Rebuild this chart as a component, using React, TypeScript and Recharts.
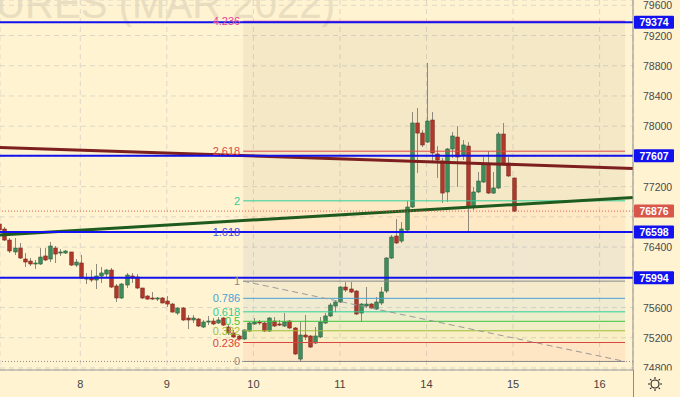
import {
    Bar,
    CartesianGrid,
    ComposedChart,
    ReferenceArea,
    ReferenceDot,
    ReferenceLine,
    XAxis,
    YAxis,
} from 'recharts';

// hourly candles, index = bar number
const opens = [
    76705, 76639, 76493, 76335, 76387, 76242, 76215, 76176, 76176, 76282, 76242, 76387, 76321, 76321, 76335, 76162,
    76189, 75977, 75990, 75964, 76017, 76043, 76096, 75885, 75726, 75898, 76017, 76004, 75858, 75752, 75726, 75712,
    75726, 75686, 75646, 75527, 75593, 75461, 75435, 75448, 75342, 75408, 75421, 75395, 75461, 75342, 75263, 75223,
    75183, 75289, 75382, 75408, 75395, 75289, 75421, 75382, 75355, 75421, 75329, 74918, 75236, 75223, 75130, 75210,
    75395, 75488, 75620, 75673, 75871, 75845, 75818, 75527, 75620, 75646, 75580, 75660, 75818, 76255, 76546, 76480,
    76626, 76930, 78042, 77909, 77790, 78081, 77632, 77539, 77129, 77698, 77856, 77618, 77737, 76930, 77129, 77261,
    77499, 77115, 77182, 77896, 77512, 77314,
];
const highs = [
    76732, 76665, 76520, 76520, 76454, 76321, 76255, 76229, 76387, 76387, 76467, 76414, 76374, 76361, 76335, 76242,
    76295, 76057, 76096, 76176, 76136, 76110, 76123, 75911, 75924, 76057, 76057, 76043, 75860, 75765, 75805, 75739,
    75739, 75752, 75660, 75607, 75607, 75501, 75501, 75461, 75435, 75488, 75461, 75474, 75474, 75368, 75302, 75236,
    75315, 75408, 75461, 75435, 75421, 75474, 75474, 75435, 75527, 75435, 75342, 75408, 75501, 75236, 75342, 75474,
    75527, 75660, 75686, 75885, 75937, 75937, 75832, 75660, 75871, 75660, 75739, 75871, 76268, 76560, 76771, 76732,
    77010, 78187, 78240, 77949, 78836, 78187, 77737, 77579, 77711, 77923, 78002, 77817, 77790, 77195, 77393, 77592,
    77671, 77393, 77923, 78042, 77592, 77320,
];
const lows = [
    76612, 76480, 76321, 76295, 76242, 76136, 76149, 76110, 76162, 76215, 76202, 76189, 76282, 76308, 76149, 76136,
    75977, 75911, 75937, 75845, 75924, 75990, 75858, 75673, 75712, 75858, 75924, 75845, 75712, 75699, 75699, 75686,
    75655, 75607, 75535, 75501, 75421, 75315, 75395, 75342, 75329, 75368, 75368, 75382, 75355, 75236, 75196, 75170,
    75170, 75276, 75368, 75368, 75276, 75276, 75342, 75355, 75342, 75315, 74971, 74879, 75170, 75064, 75117, 75196,
    75382, 75474, 75540, 75660, 75805, 75792, 75501, 75408, 75593, 75580, 75567, 75633, 75792, 76242, 76440, 76454,
    76599, 76917, 77380, 77724, 77777, 77512, 77314, 76983, 76996, 77579, 77195, 77552, 76586, 76890, 77115, 77248,
    77102, 77102, 77168, 77486, 77327, 76864,
];
const closes = [
    76626, 76493, 76348, 76387, 76255, 76202, 76176, 76189, 76268, 76229, 76414, 76308, 76335, 76348, 76162, 76202,
    75990, 75990, 75964, 76017, 76057, 76096, 75871, 75726, 75911, 76030, 75990, 75858, 75726, 75712, 75712, 75726,
    75660, 75646, 75540, 75593, 75435, 75435, 75461, 75355, 75408, 75421, 75382, 75435, 75368, 75263, 75210, 75183,
    75302, 75395, 75408, 75395, 75289, 75461, 75355, 75368, 75408, 75329, 74985, 75236, 75210, 75077, 75223, 75408,
    75488, 75633, 75673, 75871, 75832, 75805, 75514, 75646, 75646, 75593, 75673, 75805, 76255, 76533, 76454, 76639,
    76930, 78042, 77909, 77751, 78068, 77645, 77552, 77115, 77698, 77870, 77592, 77751, 76930, 77129, 77274, 77499,
    77115, 77182, 77896, 77512, 77341, 76876,
];

const dayTicks = [16, 33, 50, 67, 84, 101, 118];
const dayLabels = ['8', '9', '10', '11', '14', '15', '16'];
const priceTicks = [74800, 75200, 75600, 76000, 76400, 76800, 77200, 77600, 78000, 78400, 78800, 79200, 79600];

const levelPrices = [79374, 77607, 76598, 75994];
const lastPrice = 76876;

// fib retracement: anchors and ratios
const fibStart = 48;
const fibEnd = 123;
const fibLow = 74886;
const fibHigh = 75949;
const fibRatios = [0, 0.236, 0.382, 0.5, 0.618, 0.786, 1, 1.618, 2, 2.618, 4.236];
const fibColors = ['#8a8a8a', '#d9453f', '#9fbf3a', '#3fc43f', '#2fcf9a', '#4aa2d6', '#8a8a8a', '#4b4bd6', '#2fcf9a', '#dd4848', '#e6409e'];
const fibFills = ['#f05a3c', '#c8c040', '#60c060', '#30c090', '#50a0d0', '#909090', '#6070c0', '#f08040', '#807a68', '#8a7a60'];

// trend lines (price at left and right edge of the pane)
const X_MIN = 0.23;
const X_MAX = 124.56;
const resistanceLine = [77717, 77440];
const supportLine = [76560, 77056];

const Y_MIN = 74773;
const Y_MAX = 79670;

const BG = '#fff3d1';
const BLUE = '#1212ee';
const UP = '#3f8d5c';
const UP_EDGE = '#285c3b';
const DOWN = '#b03a2a';
const DOWN_EDGE = '#7a2418';
const WICK = '#8d897c';

const candles = opens.map((open, i) => ({
    i,
    open,
    high: highs[i],
    low: lows[i],
    close: closes[i],
}));

const fibPrice = (r: number) => fibLow + r * (fibHigh - fibLow);
const tagPrices = [...levelPrices, lastPrice];

function Candle(props: any) {
    const { x, y, width, height } = props;
    const d = props.payload ?? props;
    if (x == null || y == null) return null;
    const cx = Math.round(x + width / 2) + 0.5;
    const top = Math.min(y, y + height);
    const h = Math.abs(height);
    const k = d.high > d.low ? h / (d.high - d.low) : 0;
    const py = (p: number) => top + (d.high - p) * k;
    const up = d.close >= d.open;
    const bTop = py(Math.max(d.open, d.close));
    const bBot = py(Math.min(d.open, d.close));
    return (
        <g>
            <line x1={cx} x2={cx} y1={top} y2={top + h} stroke={WICK} strokeWidth={1} />
            <rect
                x={cx - 1.75}
                y={bTop}
                width={3.5}
                height={Math.max(1, bBot - bTop)}
                fill={up ? UP : DOWN}
                stroke={up ? UP_EDGE : DOWN_EDGE}
                strokeWidth={0.6}
            />
        </g>
    );
}

// price scale labels that sit under a price tag are hidden, as in the terminal
function PriceTick(props: any) {
    const { x, y, payload } = props;
    const v = payload.value;
    if (tagPrices.some((p) => Math.abs(p - v) < 110)) return null;
    return (
        <text x={x} y={y + 4} fill="#4a4a4a" fontSize={10.5} textAnchor="start">
            {v}
        </text>
    );
}

function PriceTag({ viewBox, text, color }: any) {
    if (!viewBox) return null;
    const x = viewBox.x + viewBox.width + 1;
    const y = viewBox.y;
    return (
        <g>
            <rect x={x} y={y - 6.5} width={40} height={13} rx={1} fill={color} />
            <text x={x + 20} y={y + 4} textAnchor="middle" fill="#fff" fontSize={10.5} fontWeight="bold">
                {text}
            </text>
        </g>
    );
}

export default function App() {
    return (
        <div
            style={{
                position: 'absolute',
                left: 0,
                top: 0,
                width: 680,
                height: 397,
                background: BG,
                overflow: 'hidden',
                fontFamily: '"Liberation Sans", Arial, sans-serif',
            }}
        >
            <svg width={680} height={397} style={{ position: 'absolute', left: 0, top: 0 }}>
                <text x={-4} y={18} fontSize={42} fill="#e9dec0" textLength={339} lengthAdjust="spacingAndGlyphs">
                    URES (MAR 2022)
                </text>
            </svg>
            <div style={{ position: 'absolute', left: 0, top: 0 }}>
                <ComposedChart width={680} height={397} data={candles} margin={{ top: 0, right: 0, bottom: 0, left: 0 }}>
                    {fibFills.map((c, k) => (
                        <ReferenceArea
                            key={`z${k}`}
                            x1={fibStart}
                            x2={fibEnd}
                            y1={fibPrice(fibRatios[k])}
                            y2={fibPrice(fibRatios[k + 1])}
                            fill={c}
                            fillOpacity={0.09}
                            stroke="none"
                            ifOverflow="visible"
                        />
                    ))}
                    <CartesianGrid stroke="#ddd7c6" strokeDasharray="5 4" />
                    <XAxis
                        type="number"
                        dataKey="i"
                        domain={[X_MIN, X_MAX]}
                        allowDataOverflow
                        ticks={dayTicks}
                        interval={0}
                        tickFormatter={(v) => dayLabels[dayTicks.indexOf(v)]}
                        tickLine={false}
                        tickSize={8}
                        axisLine={{ stroke: '#9b9b9b' }}
                        tick={{ fill: '#444', fontSize: 11 }}
                        height={27}
                    />
                    <YAxis
                        orientation="right"
                        type="number"
                        domain={[Y_MIN, Y_MAX]}
                        allowDataOverflow
                        ticks={priceTicks}
                        interval={0}
                        tickLine={false}
                        tickSize={8}
                        tickMargin={2}
                        axisLine={{ stroke: '#8c8c8c' }}
                        tick={<PriceTick />}
                        width={47}
                    />
                    {fibRatios.map((r, k) => (
                        <ReferenceLine
                            key={`f${k}`}
                            segment={[{ x: fibStart, y: fibPrice(r) }, { x: fibEnd, y: fibPrice(r) }]}
                            stroke={fibColors[k]}
                            strokeWidth={1}
                            ifOverflow="visible"
                        />
                    ))}
                    <ReferenceLine
                        segment={[{ x: fibStart, y: fibHigh }, { x: fibEnd, y: fibLow }]}
                        stroke="#9a9a9a"
                        strokeDasharray="6 4"
                        ifOverflow="visible"
                    />
                    <ReferenceLine y={fibLow} stroke="#8a8a8a" strokeDasharray="1 2" />
                    {fibRatios.map((r, k) => (
                        <ReferenceDot
                            key={`l${k}`}
                            x={fibStart}
                            y={fibPrice(r)}
                            r={1}
                            fill="none"
                            stroke="none"
                            ifOverflow="visible"
                            label={(lp: any) => (
                                <text
                                    x={lp.viewBox.x - 2}
                                    y={lp.viewBox.y + 5}
                                    textAnchor="end"
                                    fill={fibColors[k]}
                                    fontSize={11}
                                >
                                    {String(r)}
                                </text>
                            )}
                        />
                    ))}
                    <Bar dataKey={(d: any) => [d.low, d.high]} barSize={4} shape={Candle} isAnimationActive={false} />
                    <ReferenceLine
                        segment={[{ x: X_MIN, y: resistanceLine[0] }, { x: X_MAX, y: resistanceLine[1] }]}
                        stroke="#7d1f1f"
                        strokeWidth={3}
                        ifOverflow="visible"
                    />
                    <ReferenceLine
                        segment={[{ x: X_MIN, y: supportLine[0] }, { x: X_MAX, y: supportLine[1] }]}
                        stroke="#1f5a1f"
                        strokeWidth={3}
                        ifOverflow="visible"
                    />
                    {levelPrices.map((p) => (
                        <ReferenceLine
                            key={p}
                            y={p}
                            stroke={BLUE}
                            strokeWidth={2}
                            label={(lp: any) => <PriceTag viewBox={lp.viewBox} text={String(p)} color={BLUE} />}
                        />
                    ))}
                    <ReferenceLine
                        y={lastPrice}
                        stroke="#e0604f"
                        strokeDasharray="1 2"
                        label={(lp: any) => <PriceTag viewBox={lp.viewBox} text={String(lastPrice)} color="#d9564a" />}
                    />
                </ComposedChart>
            </div>
            <svg width={680} height={397} style={{ position: 'absolute', left: 0, top: 0, pointerEvents: 'none' }}>
                <rect x={634} y={370.5} width={46} height={27} fill={BG} />
                <line x1={633.5} x2={633.5} y1={370} y2={397} stroke="#8c8c8c" />
                <g transform="translate(655,384)" stroke="#222" strokeWidth={1.1} fill="none">
                    <circle r={4} />
                    {[0, 45, 90, 135, 180, 225, 270, 315].map((a) => (
                        <line
                            key={a}
                            x1={5 * Math.cos((a * Math.PI) / 180)}
                            y1={5 * Math.sin((a * Math.PI) / 180)}
                            x2={7 * Math.cos((a * Math.PI) / 180)}
                            y2={7 * Math.sin((a * Math.PI) / 180)}
                        />
                    ))}
                </g>
            </svg>
        </div>
    );
}
